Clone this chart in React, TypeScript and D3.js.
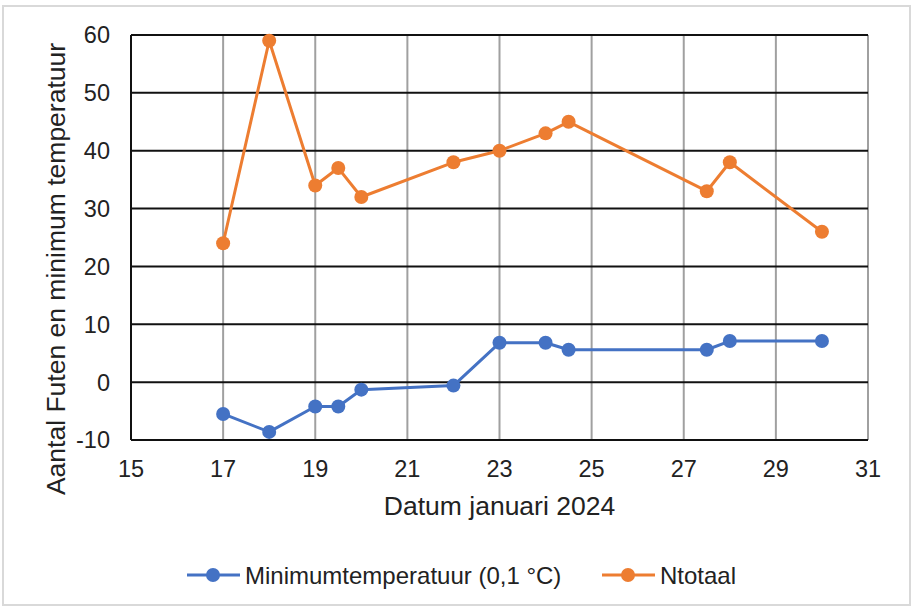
import React from "react";
import * as d3 from "d3";

const days = [17, 18, 19, 19.5, 20, 22, 23, 24, 24.5, 27.5, 28, 30];
const minTemp = [-5.5, -8.6, -4.2, -4.2, -1.3, -0.6, 6.8, 6.8, 5.6, 5.6, 7.1, 7.1];
const ntotaal = [24, 59, 34, 37, 32, 38, 40, 43, 45, 33, 38, 26];
const xTicks = [15, 17, 19, 21, 23, 25, 27, 29, 31];
const yTicks = [-10, 0, 10, 20, 30, 40, 50, 60];

const series = [
  { name: "Minimumtemperatuur (0,1 °C)", values: minTemp, color: "#4472C4" },
  { name: "Ntotaal", values: ntotaal, color: "#ED7D31" },
];

const W = 912;
const H = 609;
const left = 131;
const right = 868;
const top = 35;
const bottom = 440;
const FONT = "'Liberation Sans', Arial, sans-serif";
const TEXT = "#222";

export default function App() {
  const x = d3.scaleLinear().domain([15, 31]).range([left, right]);
  const y = d3.scaleLinear().domain([-10, 60]).range([bottom, top]);
  const line = d3
    .line<[number, number]>()
    .x((d) => x(d[0]))
    .y((d) => y(d[1]));

  const legendItems = [
    { s: series[0], x0: 187 },
    { s: series[1], x0: 602 },
  ];

  return (
    <svg
      width={W}
      height={H}
      style={{ position: "absolute", left: 0, top: 0, background: "#fff" }}
    >
      <rect x={3} y={6} width={907} height={599} fill="#fff" stroke="#d9d9d9" strokeWidth={2} />
      {/* vertical gridlines */}
      {xTicks.map((t) => (
        <line
          key={"vx" + t}
          x1={x(t)}
          x2={x(t)}
          y1={top}
          y2={bottom}
          stroke={t === 15 ? "#111" : "#a0a0a0"}
          strokeWidth={2}
        />
      ))}
      {/* horizontal gridlines */}
      {yTicks.map((t) => (
        <line
          key={"hy" + t}
          x1={left}
          x2={right}
          y1={y(t)}
          y2={y(t)}
          stroke="#111"
          strokeWidth={2}
        />
      ))}
      {/* y tick labels */}
      {yTicks.map((t) => (
        <text
          key={"yl" + t}
          x={110}
          y={y(t)}
          dy="0.36em"
          textAnchor="end"
          fontFamily={FONT}
          fontSize={23.5}
          fill={TEXT}
        >
          {t}
        </text>
      ))}
      {/* x tick labels */}
      {xTicks.map((t) => (
        <text
          key={"xl" + t}
          x={x(t)}
          y={477}
          textAnchor="middle"
          fontFamily={FONT}
          fontSize={23.5}
          fill={TEXT}
        >
          {t}
        </text>
      ))}
      {/* axis titles */}
      <text
        x={(left + right) / 2}
        y={515}
        textAnchor="middle"
        fontFamily={FONT}
        fontSize={26.5}
        fill={TEXT}
      >
        Datum januari 2024
      </text>
      <text
        transform={`translate(65,269) rotate(-90)`}
        textAnchor="middle"
        fontFamily={FONT}
        fontSize={26.5}
        fill={TEXT}
      >
        Aantal Futen en minimum temperatuur
      </text>
      {/* series */}
      {series.map((s) => {
        const pts = days.map((d, i) => [d, s.values[i]] as [number, number]);
        return (
          <g key={s.name}>
            <path d={line(pts) || ""} fill="none" stroke={s.color} strokeWidth={3} strokeLinejoin="round" />
            {pts.map((p, i) => (
              <circle key={i} cx={x(p[0])} cy={y(p[1])} r={7} fill={s.color} />
            ))}
          </g>
        );
      })}
      {/* legend */}
      {legendItems.map(({ s, x0 }) => (
        <g key={"lg" + s.name}>
          <line x1={x0} x2={x0 + 53} y1={575} y2={575} stroke={s.color} strokeWidth={3} />
          <circle cx={x0 + 26} cy={575} r={7} fill={s.color} />
          <text x={x0 + 58} y={584} fontFamily={FONT} fontSize={24} fill={TEXT}>
            {s.name}
          </text>
        </g>
      ))}
    </svg>
  );
}
